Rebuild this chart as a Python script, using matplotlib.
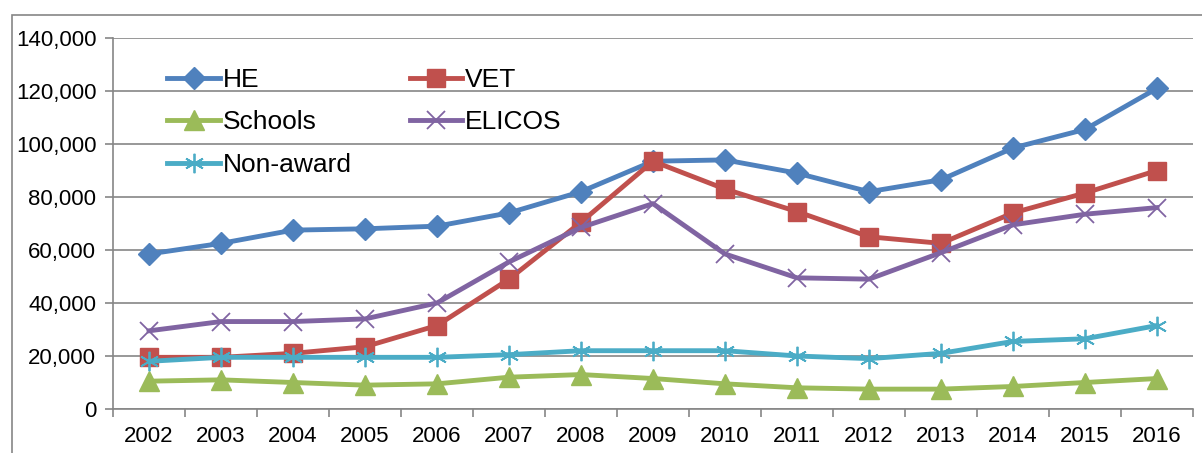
import matplotlib.pyplot as plt
from matplotlib.patches import Rectangle

plt.rcParams['font.family'] = ['Liberation Sans', 'DejaVu Sans']

years = ['2002', '2003', '2004', '2005', '2006', '2007', '2008', '2009',
         '2010', '2011', '2012', '2013', '2014', '2015', '2016']
he = [58500, 62500, 67500, 68000, 69000, 74000, 82000, 93500,
      94000, 89000, 82000, 86500, 98500, 105500, 121000]
vet = [19500, 19500, 21000, 23500, 31500, 49000, 70500, 93500,
       83000, 74500, 65000, 62500, 74000, 81500, 90000]
schools = [10500, 11000, 10000, 9000, 9500, 12000, 13000, 11500,
           9500, 8000, 7500, 7500, 8500, 10000, 11500]
elicos = [29500, 33000, 33000, 34000, 40000, 55500, 68500, 77500,
          58500, 49500, 49000, 59000, 69500, 73500, 76000]
nonaward = [18000, 19500, 19500, 19500, 19500, 20500, 22000, 22000,
            22000, 20000, 19000, 21000, 25500, 26500, 31500]
y_ticks = [0, 20000, 40000, 60000, 80000, 100000, 120000, 140000]

fig = plt.figure(figsize=(12.02, 4.53), dpi=100)
ax = fig.add_axes([113 / 1202, 1 - 409 / 453, 1080 / 1202, 371 / 453])

x = list(range(len(years)))
lw = 3.5
l_he, = ax.plot(x, he, color='#4F81BD', lw=lw, marker='D', ms=11, label='HE')
l_vet, = ax.plot(x, vet, color='#C0504D', lw=lw, marker='s', ms=13, label='VET')
l_sch, = ax.plot(x, schools, color='#9BBB59', lw=lw, marker='^', ms=14, label='Schools')
l_eli, = ax.plot(x, elicos, color='#8064A2', lw=lw, marker='x', ms=13, mew=1.3, label='ELICOS')
l_non, = ax.plot(x, nonaward, color='#4BACC6', lw=lw, marker=(6, 2, 0), ms=14, mew=1.3, label='Non-award')

ax.set_xlim(-0.5, len(years) - 0.5)
ax.set_ylim(0, 140000)
ax.set_yticks(y_ticks)
ax.set_yticklabels(['{:,}'.format(v) for v in y_ticks])
ax.set_xticks(x)
ax.set_xticklabels(years)
ax.set_xticks([i - 0.5 for i in range(len(years) + 1)], minor=True)
ax.tick_params(axis='x', which='major', length=0, labelsize=16, pad=12)
ax.tick_params(axis='x', which='minor', length=6, color='#868686', width=1.2)
ax.tick_params(axis='y', length=6, color='#868686', width=1.2, labelsize=16, pad=6)

ax.grid(axis='y', color='#868686', lw=1.2)
ax.set_axisbelow(True)
for s in ['top', 'right']:
    ax.spines[s].set_visible(False)
for s in ['left', 'bottom']:
    ax.spines[s].set_color('#868686')
    ax.spines[s].set_linewidth(1.2)

ax.legend(handles=[l_he, l_sch, l_non, l_vet, l_eli], ncol=2, frameon=False,
          loc='upper left', bbox_to_anchor=(0.038, 0.955), fontsize=19,
          handlelength=2.0, handletextpad=0.1, columnspacing=2.2,
          labelspacing=0.7, borderpad=0)

# outer chart border
fig.add_artist(Rectangle((12 / 1202, -0.1), 1.2, 1 - 15 / 453 + 0.1,
                         transform=fig.transFigure, fill=False,
                         edgecolor='#868686', lw=1.2))

fig.savefig('out.png', dpi=100)
